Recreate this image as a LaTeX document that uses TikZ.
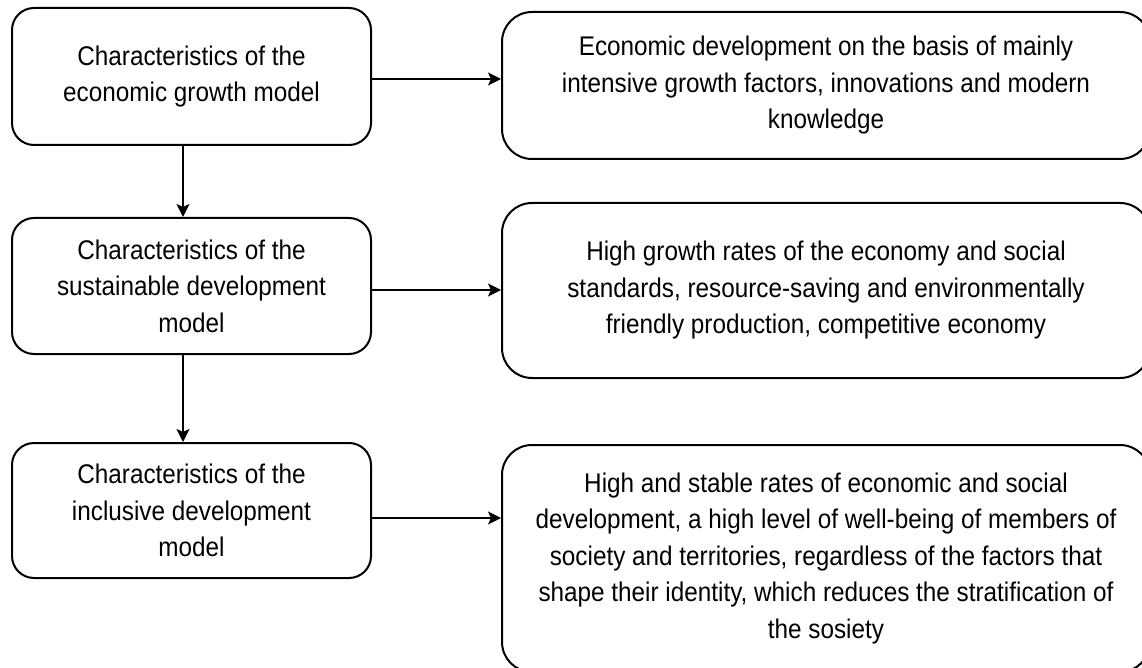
\documentclass[tikz,border=0pt]{standalone}
\usepackage{fontspec}
\setmainfont[FakeStretch=0.9]{Liberation Sans}
\usetikzlibrary{arrows.meta}

\begin{document}
\begin{tikzpicture}[x=1pt, y=-1pt,
    boxtext/.style={align=center, font=\fontsize{27}{36.5}\selectfont},
    leftbox/.style={boxtext, draw, line width=2pt, rounded corners=22pt, minimum width=359pt},
    rightbox/.style={boxtext, draw, line width=2pt, rounded corners=30pt, minimum width=648pt},
    arr/.style={line width=1.8pt, -{Stealth[length=13pt,width=13pt,inset=3pt]}}]

	% Frame
	\clip (0,0) rectangle (1142,668);

	% Models
	\node[leftbox, minimum height=137pt] (growth) at (191.5,76.5) {Characteristics of the\\economic growth model};
	\node[leftbox, minimum height=136pt] (sustain) at (191.5,286) {Characteristics of the\\sustainable development\\model};
	\node[leftbox, minimum height=135pt] (inclus) at (191.5,510.5) {Characteristics of the\\inclusive development\\model};

	% Features
	\node[rightbox, minimum height=147pt] (growthfeat) at (826,85.5) {Economic development on the basis of mainly\\intensive growth factors, innovations and modern\\knowledge};
	\node[rightbox, minimum height=175pt] (sustainfeat) at (826,290.5) {High growth rates of the economy and social\\standards, resource-saving and environmentally\\friendly production, competitive economy};
	\node[rightbox, minimum height=227pt] (inclusfeat) at (826,558.5) {High and stable rates of economic and social\\development, a high level of well-being of members of\\society and territories, regardless of the factors that\\shape their identity, which reduces the stratification of\\the sosiety};

	% Model to model
	\draw[arr] ([xshift=-8.5pt]growth.south) -- ([xshift=-8.5pt]sustain.north);
	\draw[arr] ([xshift=-8.5pt]sustain.south) -- ([xshift=-8.5pt]inclus.north);

	% Model to features
	\coordinate (g0) at ([yshift=-2.5pt]growth.east);
	\coordinate (s0) at ([yshift=-4pt]sustain.east);
	\coordinate (i0) at ([yshift=-7.5pt]inclus.east);
	\draw[arr] (g0) -- (g0 -| growthfeat.west);
	\draw[arr] (s0) -- (s0 -| sustainfeat.west);
	\draw[arr] (i0) -- (i0 -| inclusfeat.west);

\end{tikzpicture}
\end{document}
